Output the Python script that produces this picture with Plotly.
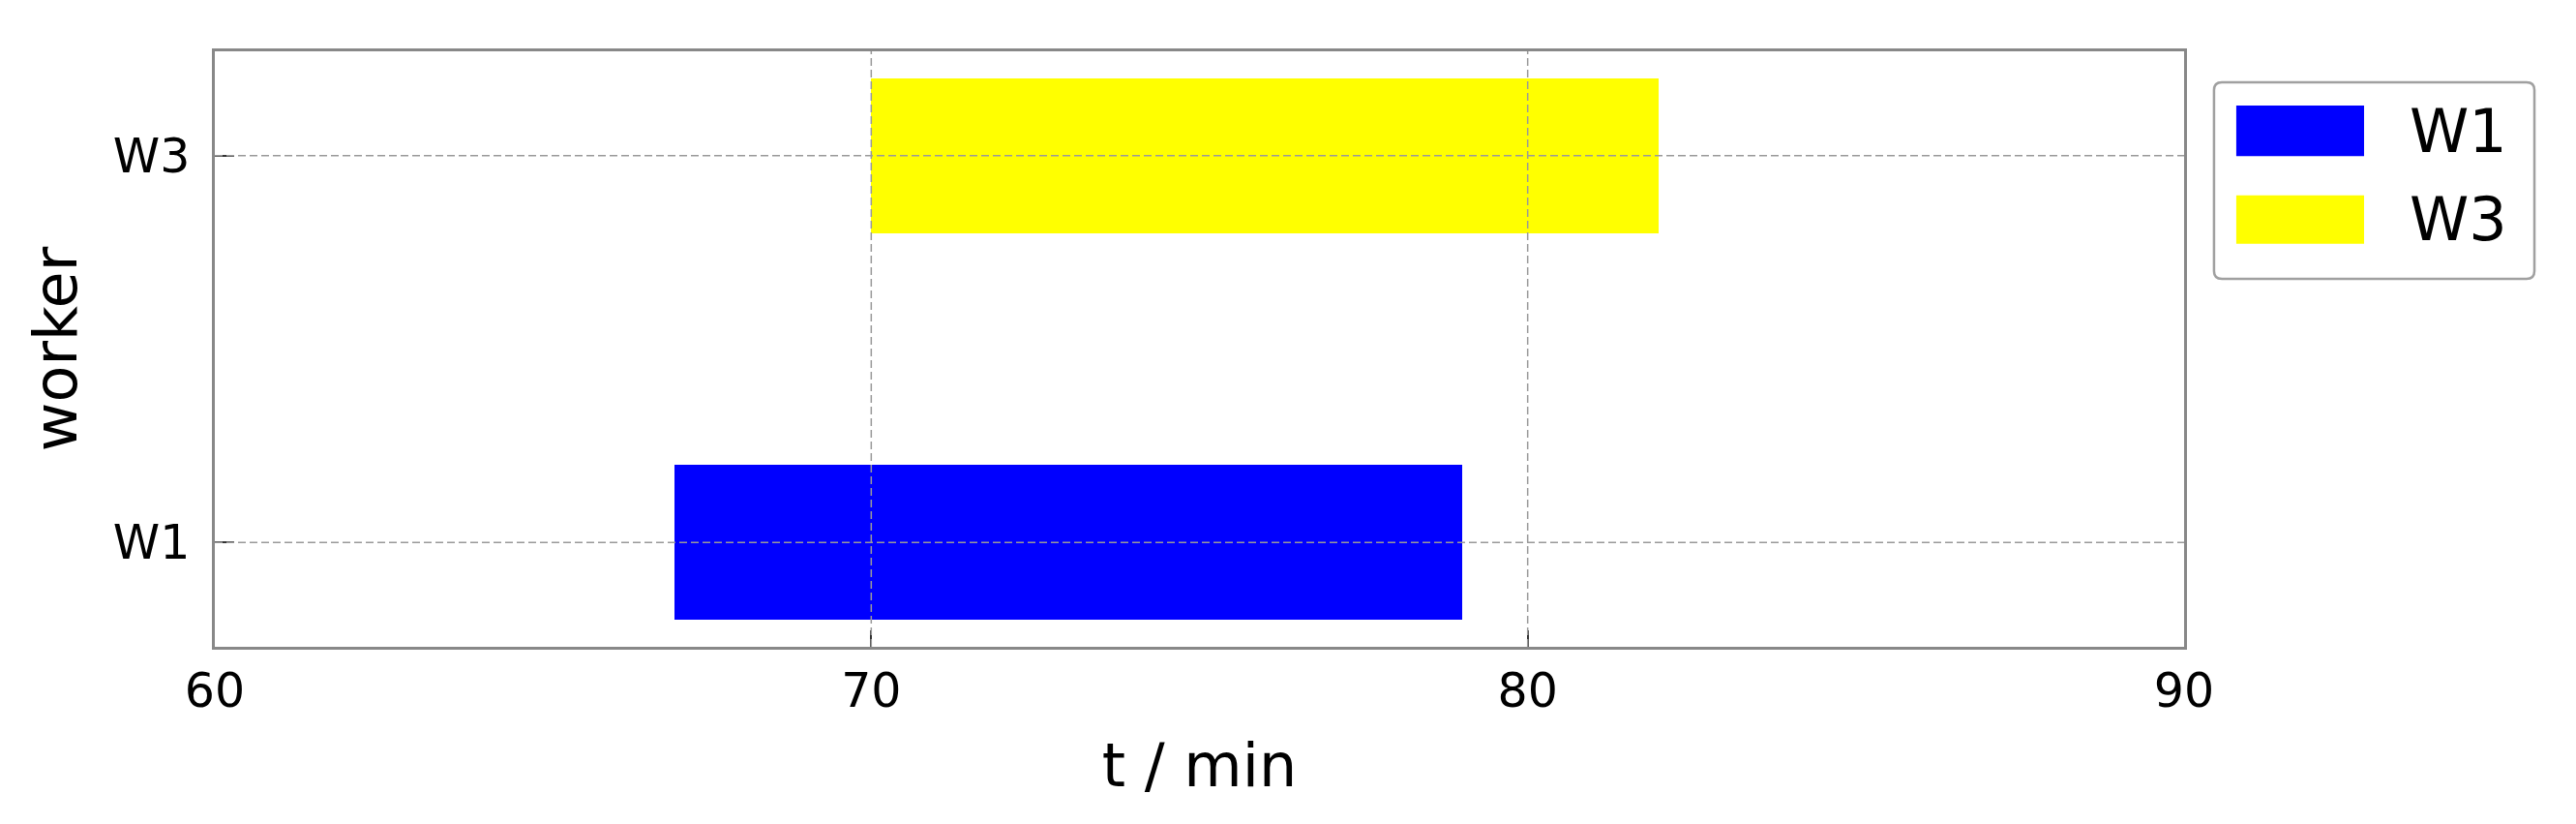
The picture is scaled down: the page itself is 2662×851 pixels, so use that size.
import plotly.graph_objects as go

# gantt data: one bar per worker
workers = ['W1', 'W3']
start_min = [67, 70]
end_min = [79, 82]
bar_colors = ['#0000ff', '#ffff00']

x_ticks = [60, 70, 80, 90]

FONT = 'DejaVu Sans'
GRID = '#999999'

fig = go.Figure()
for i, w in enumerate(workers):
    fig.add_trace(go.Bar(
        y=[w], x=[end_min[i] - start_min[i]], base=[start_min[i]],
        orientation='h', width=0.4, name=w,
        marker=dict(color=bar_colors[i], line=dict(width=0)),
        showlegend=False,
    ))

# matplotlib draws its grid over the bars here, so use shapes on top
shapes = []
for t in x_ticks[1:-1]:
    shapes.append(dict(type='line', xref='x', yref='paper', x0=t, x1=t, y0=0, y1=1,
                       line=dict(color=GRID, width=1.5, dash='8px,4px'), layer='above'))
for i, w in enumerate(workers):
    shapes.append(dict(type='line', xref='paper', yref='y', x0=0, x1=1, y0=i, y1=i,
                       line=dict(color=GRID, width=1.5, dash='8px,4px'), layer='above'))

# legend box (rounded) with wide swatches, drawn by hand
bx0, bx1, by0, by1 = 1.0152, 1.1779, 0.618, 0.948
rx, ry = 0.004, 0.013
box = (f'M {bx0+rx},{by1} L {bx1-rx},{by1} Q {bx1},{by1} {bx1},{by1-ry} '
       f'L {bx1},{by0+ry} Q {bx1},{by0} {bx1-rx},{by0} '
       f'L {bx0+rx},{by0} Q {bx0},{by0} {bx0},{by0+ry} '
       f'L {bx0},{by1-ry} Q {bx0},{by1} {bx0+rx},{by1} Z')
shapes.append(dict(type='path', xref='paper', yref='paper', path=box,
                   line=dict(color='#a0a0a0', width=2.5), fillcolor='white', layer='above'))
sw_y = [(0.824, 0.909), (0.677, 0.758)]
annotations = []
for i, w in enumerate(workers):
    shapes.append(dict(type='rect', xref='paper', yref='paper', x0=1.0265, x1=1.0914,
                       y0=sw_y[i][0], y1=sw_y[i][1], line=dict(width=0),
                       fillcolor=bar_colors[i], layer='above'))
    annotations.append(dict(xref='paper', yref='paper', x=1.1135, y=sum(sw_y[i]) / 2,
                            text=w, showarrow=False, xanchor='left', yanchor='middle',
                            font=dict(family=FONT, size=62, color='black')))

fig.update_layout(
    width=2662, height=851,
    margin=dict(l=222, r=405, t=53, b=183),
    plot_bgcolor='white', paper_bgcolor='white',
    font=dict(family=FONT, color='black'),
    shapes=shapes, annotations=annotations,
    showlegend=False, bargap=0,
)
fig.update_xaxes(
    range=[60, 90], tickvals=x_ticks, showgrid=False, zeroline=False,
    showline=True, linecolor='#888888', linewidth=2.5, mirror=True,
    ticks='inside', ticklen=17, tickwidth=1.5, tickcolor='#333333',
    tickfont=dict(size=49), ticklabelstandoff=0,
    title=dict(text='t / min', font=dict(size=62), standoff=29),
    automargin=False,
)
fig.update_yaxes(
    range=[-0.27, 1.27], categoryorder='array', categoryarray=workers,
    showgrid=False, zeroline=False,
    showline=True, linecolor='#888888', linewidth=2.5, mirror=True,
    ticks='inside', ticklen=20, tickwidth=1.5, tickcolor='#333333',
    tickfont=dict(size=49), ticklabelstandoff=13,
    title=dict(text='worker', font=dict(size=62), standoff=18),
    automargin=False,
)

fig.write_html('out.html', config={'displayModeBar': False},
               post_script="document.body.style.margin = '0';")
